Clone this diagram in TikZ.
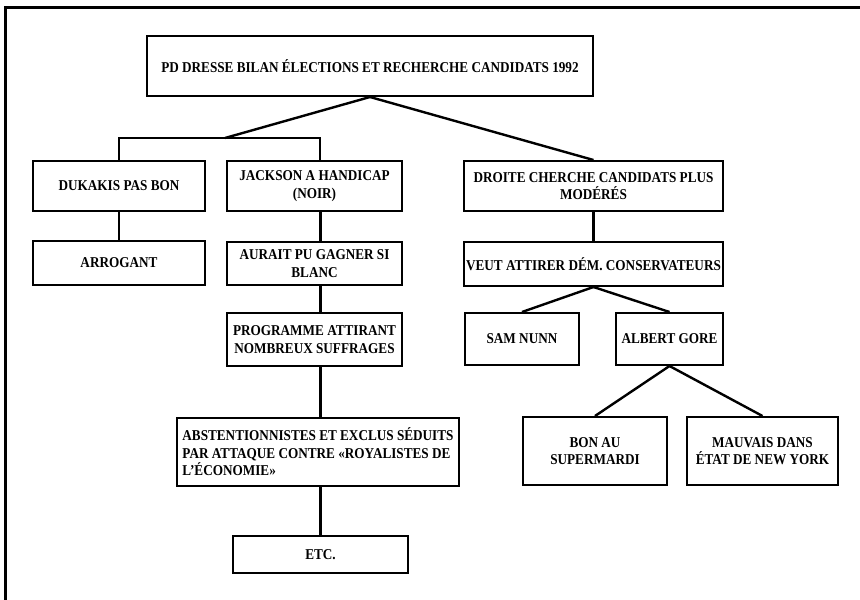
\documentclass[tikz,border=0pt]{standalone}
\usepackage{fontspec}
\setmainfont{Liberation Serif}[FakeStretch=0.88]
\begin{document}
\begin{tikzpicture}[x=1pt,y=-1pt,
  box/.style={draw=black,line width=2pt,fill=white,inner sep=0pt,align=center,
    font=\bfseries\fontsize{15}{17.5}\selectfont},
  link/.style={line width=2.4pt,draw=black}]
\useasboundingbox (0,0) rectangle (860,600);
\draw[line width=3pt] (5,600) -- (5,7) -- (860,7);
% boxes
\node[box,minimum width=446pt,minimum height=60pt] (top) at (370,66) {PD DRESSE BILAN ÉLECTIONS ET RECHERCHE CANDIDATS 1992};
\node[box,minimum width=172pt,minimum height=50pt] (duk) at (119,186) {DUKAKIS PAS BON};
\node[box,minimum width=172pt,minimum height=44pt] (arr) at (119,263) {ARROGANT};
\node[box,minimum width=175pt,minimum height=50pt] (jack) at (314.5,186) {JACKSON A HANDICAP\\(NOIR)};
\node[box,minimum width=175pt,minimum height=43pt] (aur) at (314.5,263.5) {AURAIT PU GAGNER SI\\BLANC};
\node[box,minimum width=175pt,minimum height=53pt] (prog) at (314.5,339.5) {PROGRAMME ATTIRANT\\NOMBREUX SUFFRAGES};
\node[box,minimum width=282pt,minimum height=68pt,align=left] (abst) at (318,452) {ABSTENTIONNISTES ET EXCLUS SÉDUITS\\PAR ATTAQUE CONTRE «ROYALISTES DE\\L'ÉCONOMIE»};
\node[box,minimum width=175pt,minimum height=37pt] (etc) at (320.5,554.5) {ETC.};
\node[box,minimum width=259pt,minimum height=50pt] (dro) at (593.5,186) {DROITE CHERCHE CANDIDATS PLUS\\MODÉRÉS};
\node[box,minimum width=259pt,minimum height=44pt] (veut) at (593.5,264) {VEUT ATTIRER DÉM. CONSERVATEURS};
\node[box,minimum width=114pt,minimum height=52pt] (sam) at (522,339) {SAM NUNN};
\node[box,minimum width=107pt,minimum height=52pt] (gore) at (669.5,339) {ALBERT GORE};
\node[box,minimum width=144pt,minimum height=68pt] (bon) at (595,451) {BON AU\\SUPERMARDI};
\node[box,minimum width=151pt,minimum height=68pt] (mauv) at (762.5,451) {MAUVAIS DANS\\ÉTAT DE NEW YORK};
% connector joints
\coordinate (hl) at (119,138);
\coordinate (hr) at (320,138);
\coordinate (hj) at (225,138);
% connectors
\draw[link] (top.south) -- (hj);
\draw[link] (top.south) -- (dro.north);
\draw[link,line cap=rect] (hl) -- (hr);
\draw[link] (hl) -- (duk.north);
\draw[link] (hr) -- (hr |- jack.north);
\draw[link] (duk.south) -- (arr.north);
\draw[link] (etc.north |- jack.south) -- (etc.north |- aur.north);
\draw[link] (etc.north |- aur.south) -- (etc.north |- prog.north);
\draw[link] (etc.north |- prog.south) -- (etc.north |- abst.north);
\draw[link] (etc.north |- abst.south) -- (etc.north);
\draw[link] (dro.south) -- (veut.north);
\draw[link] (veut.south) -- (sam.north);
\draw[link] (veut.south) -- (gore.north);
\draw[link] (gore.south) -- (bon.north);
\draw[link] (gore.south) -- (mauv.north);
\end{tikzpicture}
\end{document}
